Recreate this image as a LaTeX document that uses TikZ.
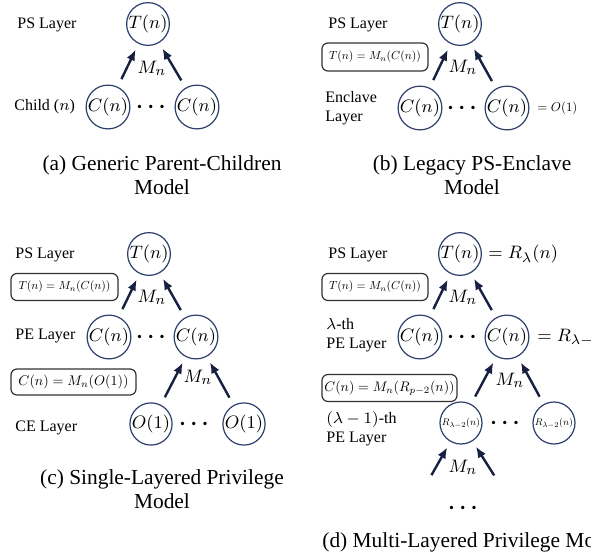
\documentclass[tikz,border=0pt]{standalone}
\usepackage{fontspec}
\setmainfont{Liberation Serif}
\usepackage{amsmath}
\usepackage{graphicx}
\usepackage{tkz-graph}
\usetikzlibrary{arrows.meta}
\definecolor{ringblue}{RGB}{44,62,107}
\definecolor{arrowblue}{RGB}{22,32,64}

\tikzset{
	layer/.style={anchor=west, align=left, inner sep=0pt, font=\fontsize{8}{9.5}\selectfont},
	eqbox/.style={draw=black!80, line width=0.6pt, rounded corners=3pt, inner sep=0pt},
	mlabel/.style={font=\fontsize{9.5}{11}\selectfont},
	dotsnode/.style={font=\fontsize{11}{12}\selectfont},
	caption/.style={align=center, font=\fontsize{10.7}{12}\selectfont}
}

\begin{document}
\begin{tikzpicture}[x=0.5pt,y=0.5pt]
	\useasboundingbox (0,0) rectangle (591,-558);
	\clip (0,0) rectangle (591,-558);
	\GraphInit[vstyle=Normal]
	\SetUpEdge[lw    = 1.2pt,
	           color = arrowblue]
	\tikzset{VertexStyle/.style={circle, draw=ringblue, line width=0.6pt, minimum size=21pt, inner sep=0pt, font=\fontsize{9.5}{11}\selectfont}}
	\tikzset{EdgeStyle/.style={-{Latex[length=5.5pt,width=4.5pt]}, line width=1.2pt, color=arrowblue, shorten <=4.5pt, shorten >=3.5pt}}

	% (a) generic parent-children
	\Vertex[x=148,y=-24,L=$T(n)$]{ta}
	\Vertex[x=108,y=-107,L=$C(n)$]{cal}
	\Vertex[x=197,y=-107,L=$C(n)$]{car}
	\node[dotsnode] (dota) at (153,-107) {$\boldsymbol{\cdots}$};
	\Edge(cal)(ta)
	\Edge(car)(ta)
	\node[mlabel] (ma) at (152,-68) {$M_n$};
	\node[layer] (psa) at (17,-25) {PS Layer};
	\node[layer] (childa) at (14,-107) {Child ($n$)};
	\node[caption] (capa) at (162,-175) {(a) Generic Parent-Children\\Model};

	% (b) legacy PS-enclave
	\Vertex[x=460,y=-24,L=$T(n)$]{tb}
	\Vertex[x=420,y=-108,L=$C(n)$]{cbl}
	\Vertex[x=507,y=-108,L=$C(n)$]{cbr}
	\node[dotsnode] (dotb) at (464,-108) {$\boldsymbol{\cdots}$};
	\Edge(cbl)(tb)
	\Edge(cbr)(tb)
	\node[mlabel] (mb) at (463,-67) {$M_n$};
	\node[layer] (psb) at (328,-25) {PS Layer};
	\node[eqbox, minimum width=53pt, minimum height=14pt] (boxb) at (375,-57) {\resizebox{46pt}{!}{$T(n) = M_n(C(n))$}};
	\node[layer] (enclb) at (325,-108) {Enclave\\Layer};
	\node[anchor=west, inner sep=0pt] (ob) at (537,-108) {\resizebox{20pt}{!}{$= O(1)$}};
	\node[caption] (capb) at (472,-175) {(b) Legacy PS-Enclave\\Model};

	% (c) single-layered privilege
	\Vertex[x=149,y=-254,L=$T(n)$]{tc}
	\Vertex[x=109,y=-337,L=$C(n)$]{ccl}
	\Vertex[x=196,y=-337,L=$C(n)$]{ccr}
	\Vertex[x=151,y=-424,L=$O(1)$]{ocl}
	\Vertex[x=244,y=-424,L=$O(1)$]{ocr}
	\node[dotsnode] (dotc1) at (153,-337) {$\boldsymbol{\cdots}$};
	\node[dotsnode] (dotc2) at (196,-424) {$\boldsymbol{\cdots}$};
	\Edge(ccl)(tc)
	\Edge(ccr)(tc)
	\Edge[style={shorten <=5pt, shorten >=5.5pt}](ocl)(ccr)
	\Edge[style={shorten <=5pt, shorten >=5.5pt}](ocr)(ccr)
	\node[mlabel] (mc1) at (152,-297) {$M_n$};
	\node[mlabel] (mc2) at (198,-377) {$M_n$};
	\node[layer] (psc) at (15,-255) {PS Layer};
	\node[layer] (pec) at (15,-336) {PE Layer};
	\node[layer] (cec) at (15,-428) {CE Layer};
	\node[eqbox, minimum width=53.5pt, minimum height=13.5pt] (boxc1) at (64.5,-287) {\resizebox{46pt}{!}{$T(n) = M_n(C(n))$}};
	\node[eqbox, minimum width=62.5pt, minimum height=13pt] (boxc2) at (73.5,-382) {\resizebox{55pt}{!}{$C(n) = M_n(O(1))$}};
	\node[caption] (capc) at (162,-489) {(c) Single-Layered Privilege\\Model};

	% (d) multi-layered privilege
	\Vertex[x=460,y=-254,L=$T(n)$]{td}
	\Vertex[x=420,y=-337,L=$C(n)$]{cdl}
	\Vertex[x=507,y=-337,L=$C(n)$]{cdr}
	\Vertex[x=461,y=-423,L={\resizebox{19pt}{!}{$R_{\lambda-2}(n)$}}]{rdl}
	\Vertex[x=554,y=-423,L={\resizebox{19pt}{!}{$R_{\lambda-2}(n)$}}]{rdr}
	\node[dotsnode] (dotd1) at (464,-337) {$\boldsymbol{\cdots}$};
	\node[dotsnode] (dotd2) at (507,-423) {$\boldsymbol{\cdots}$};
	\node[dotsnode] (dotd3) at (465,-508) {$\boldsymbol{\cdots}$};
	\coordinate (ubl) at (427,-483);
	\coordinate (ubr) at (499,-483);
	\Edge(cdl)(td)
	\Edge(cdr)(td)
	\Edge[style={shorten <=5pt, shorten >=5.5pt}](rdl)(cdr)
	\Edge[style={shorten <=5pt, shorten >=5.5pt}](rdr)(cdr)
	\Edge[style={shorten <=0pt, shorten >=7pt}](ubl)(rdl)
	\Edge[style={shorten <=0pt, shorten >=7pt}](ubr)(rdl)
	\node[mlabel] (md1) at (463,-297) {$M_n$};
	\node[mlabel] (md2) at (510,-380) {$M_n$};
	\node[mlabel] (md3) at (463,-467) {$M_n$};
	\node[anchor=west, inner sep=0pt, mlabel] (rtd) at (488,-254) {$= R_\lambda(n)$};
	\node[anchor=west, inner sep=0pt, mlabel] (rcd) at (537,-337) {$= R_{\lambda-1}(n)$};
	\node[layer] (psd) at (328,-255) {PS Layer};
	\node[layer] (ped1) at (326,-335) {$\lambda$-th\\PE Layer};
	\node[layer] (ped2) at (326,-429) {$(\lambda-1)$-th\\PE Layer};
	\node[eqbox, minimum width=53pt, minimum height=13.5pt] (boxd1) at (375,-287) {\resizebox{46pt}{!}{$T(n) = M_n(C(n))$}};
	\node[eqbox, minimum width=67.5pt, minimum height=13.5pt] (boxd2) at (389.5,-388) {\resizebox{65pt}{!}{$C(n) = M_n(R_{p-2}(n))$}};
	\node[caption, anchor=west, inner sep=0pt] (capd) at (322,-542) {(d) Multi-Layered Privilege Model};
\end{tikzpicture}
\end{document}
